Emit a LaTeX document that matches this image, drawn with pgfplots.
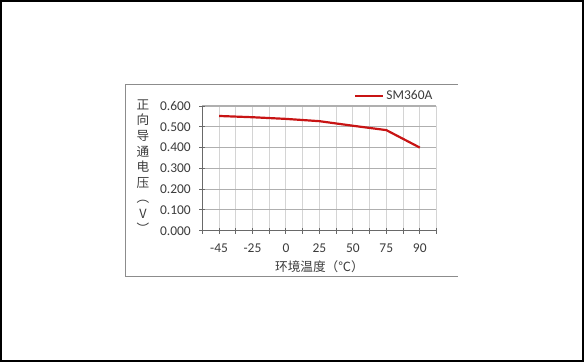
\documentclass[border=0pt]{standalone}
\usepackage{fontspec}
\setmainfont{Carlito}
\newfontfamily\cjk{Noto Sans CJK SC}
\usepackage{pgfplots}
\pgfplotsset{compat=1.18}
\definecolor{linered}{RGB}{200,20,20}
\definecolor{hgrid}{RGB}{175,175,175}
\definecolor{vgrid}{RGB}{212,212,212}
\definecolor{axisgray}{RGB}{105,105,105}
\definecolor{boxgray}{RGB}{140,140,140}
\definecolor{txt}{RGB}{60,60,60}
\begin{document}
\begin{tikzpicture}
\useasboundingbox (0bp,0bp) rectangle (584bp,362bp);
\fill[white] (0bp,0bp) rectangle (584bp,362bp);
\draw[black, line width=1.6bp] (0.8bp,0.8bp) rectangle (583.2bp,361.2bp);
\draw[boxgray, line width=1.2bp] (457.7bp,277.7bp) -- (125.5bp,277.7bp) -- (125.5bp,85.3bp) -- (457.7bp,85.3bp);
\begin{axis}[
  at={(202.3bp,131.3bp)}, anchor=south west,
  scale only axis, width=234.2bp, height=124.7bp,
  xmin=-0.5, xmax=6.5, ymin=0, ymax=0.6,
  axis x line*=bottom, axis y line*=left,
  axis line style={axisgray, line width=1.4bp},
  xtick={0,1,2,3,4,5,6},
  xticklabels={-45,-25,0,25,50,75,90},
  minor xtick={-0.5,0.5,1.5,2.5,3.5,4.5,5.5,6.5},
  ytick={0,0.1,0.2,0.3,0.4,0.5,0.6},
  xmajorgrids, xminorgrids, ymajorgrids,
  major x grid style={vgrid, line width=0.9bp},
  minor x grid style={vgrid, line width=0.9bp},
  major y grid style={hgrid, line width=1.1bp},
  tick align=center,
  major tick length=6bp, minor tick length=6bp,
  every tick/.style={axisgray, line width=0.9bp},
  every minor tick/.style={axisgray, line width=0.9bp},
  /pgf/number format/assume math mode=true,
  ticklabel style={font=\fontsize{13.5}{16}\selectfont, text=txt},
  yticklabel style={xshift=-5bp, /pgf/number format/fixed, /pgf/number format/fixed zerofill, /pgf/number format/precision=3},
  xticklabel style={yshift=-7bp},
  xlabel={环境温度（℃）},
  xlabel style={font=\cjk\fontsize{12.7}{15}\selectfont, text=txt, at={(axis description cs:0.5,-0.289)}, anchor=center},
  ylabel={正\\向\\导\\通\\电\\压\\︵\\V\\︶},
  ylabel style={rotate=-90, align=center, font=\cjk\fontsize{12.7}{15.6}\selectfont, text=txt, at={(axis description cs:-0.253,0.513)}, anchor=center},
  legend style={at={(axis description cs:0.648,1.08)}, anchor=west, draw=none, fill=none, inner sep=0pt, font=\fontsize{13.5}{16}\selectfont, text=txt},
  legend cell align=left,
  legend image code/.code={\draw[#1] (0bp,0bp) -- (28bp,0bp);},
  clip=false,
]
\addplot[linered, line width=2.2bp] coordinates {(0,0.552)(1,0.546)(2,0.538)(3,0.527)(4,0.505)(5,0.484)(6,0.400)};
\addlegendentry{SM360A}
\end{axis}
\end{tikzpicture}
\end{document}
